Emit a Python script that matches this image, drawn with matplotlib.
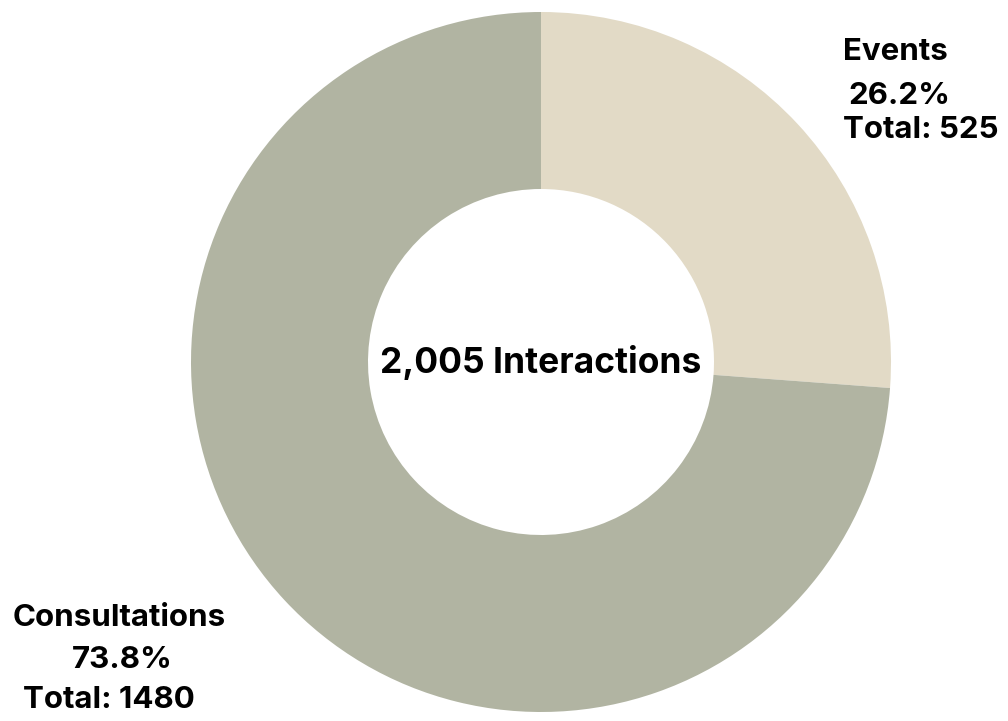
import matplotlib.pyplot as plt

# Interaction breakdown
labels = ["Events", "Consultations"]
totals = [525, 1480]
colors = ["#E2DAC6", "#B1B4A2"]

grand_total = sum(totals)
shares = [t / grand_total * 100 for t in totals]

plt.rcParams['font.family'] = ['Inter', 'DejaVu Sans']

fig = plt.figure(figsize=(10.08, 7.21), dpi=100)
ax = fig.add_axes([0, 0, 1, 1])

# donut, drawn in pixel coordinates
cx, cy = 541, 721 - 362
ax.pie(totals, colors=colors, startangle=90, counterclock=False,
       center=(cx, cy), radius=350, frame=True,
       wedgeprops=dict(width=177, linewidth=0))
ax.set_xlim(0, 1008)
ax.set_ylim(0, 721)
ax.set_aspect("equal")
ax.axis("off")

ax.text(cx, cy, f"{grand_total:,} Interactions", ha="center", va="center",
        fontsize=25.5, fontweight="bold")

# labels
style = dict(ha="center", va="center", fontsize=22.5, fontweight="bold")
ax.text(895, 721 - 52, labels[0], **style)
ax.text(899, 721 - 96, f"{shares[0]:.1f}%", **style)
ax.text(921, 721 - 130, f"Total: {totals[0]}", **style)

ax.text(119, 721 - 618, labels[1], **style)
ax.text(122, 721 - 660, f"{shares[1]:.1f}%", **style)
ax.text(109, 721 - 700, f"Total: {totals[1]}", **style)

fig.savefig("out.png", dpi=100, facecolor="white")
